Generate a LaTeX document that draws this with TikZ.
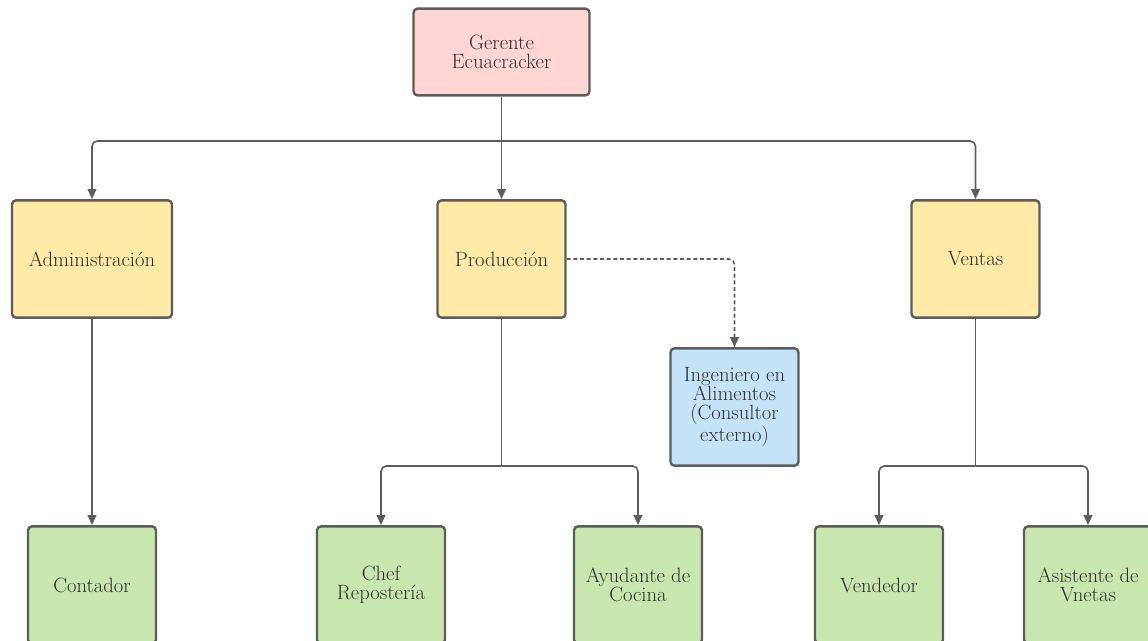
\documentclass[tikz,border=0pt]{standalone}
\usepackage{xcolor}
\usetikzlibrary{positioning,arrows.meta}

\definecolor{edgegray}{HTML}{5C5C5C}
\definecolor{txtgray}{HTML}{2E2E2E}
\definecolor{pinkfill}{HTML}{FFD6D4}
\definecolor{yellowfill}{HTML}{FFEAA8}
\definecolor{bluefill}{HTML}{C4E3F6}
\definecolor{greenfill}{HTML}{C7E7AE}

\begin{document}
\begin{tikzpicture}[x=0.75pt, y=-0.75pt,
    box/.style={draw=edgegray, line width=1.8pt, rounded corners=3pt,
        text=txtgray, align=center, inner sep=2pt,
        font=\fontsize{15.5}{14.5}\selectfont},
    topbox/.style={box, fill=pinkfill, minimum width=132pt, minimum height=65pt},
    midbox/.style={box, fill=yellowfill, minimum width=96pt, minimum height=88pt},
    extbox/.style={box, fill=bluefill, minimum width=96pt, minimum height=88pt},
    lowbox/.style={box, fill=greenfill, minimum width=96pt, minimum height=88pt},
    link/.style={draw=edgegray, line width=1.2pt, rounded corners=4pt,
        -{Triangle[length=7.5pt,width=6.5pt]}},
    plainlink/.style={draw=edgegray, line width=1.2pt},
    dashlink/.style={link, dash pattern=on 3pt off 2pt}]
    \useasboundingbox (0,0) rectangle (1148,640);

    % Top level
    \node[topbox] (ger) at (501.5,52) {Gerente\\Ecuacracker};

    % Departments
    \node[midbox, minimum width=120pt] (adm) at (92,259) {Administración};
    \node[midbox] (prod) at (501.5,259) {Producción};
    \node[midbox] (ven) at (975.5,259) {Ventas};

    % External consultant
    \node[extbox] (ing) at (734.5,407) {Ingeniero en\\Alimentos\\(Consultor\\externo)};

    % Staff
    \node[lowbox] (cont) at (92,585) {Contador};
    \node[lowbox] (chef) at (381,585) {Chef\\Repostería};
    \node[lowbox] (ayu) at (638,585) {Ayudante de\\Cocina};
    \node[lowbox] (vend) at (879,585) {Vendedor};
    \node[lowbox] (asis) at (1088,585) {Asistente de\\Vnetas};

    % Gerente -> departments
    \coordinate (busg) at (501.5,141);
    \draw[plainlink] (ger) -- (busg);
    \draw[link] (busg) -| (adm);
    \draw[link] (busg) -- (prod);
    \draw[link] (busg) -| (ven);

    % Administracion -> Contador
    \draw[link] (adm) -- (cont);

    % Produccion -> kitchen staff
    \coordinate (busp) at (501.5,466);
    \draw[plainlink] (prod) -- (busp);
    \draw[link] (busp) -| (chef);
    \draw[link] (busp) -| (ayu);

    % Produccion -> consultant (dashed)
    \draw[dashlink] (prod) -| (ing);

    % Ventas -> sales staff
    \coordinate (busv) at (975.5,466);
    \draw[plainlink] (ven) -- (busv);
    \draw[link] (busv) -| (vend);
    \draw[link] (busv) -| (asis);
\end{tikzpicture}
\end{document}
